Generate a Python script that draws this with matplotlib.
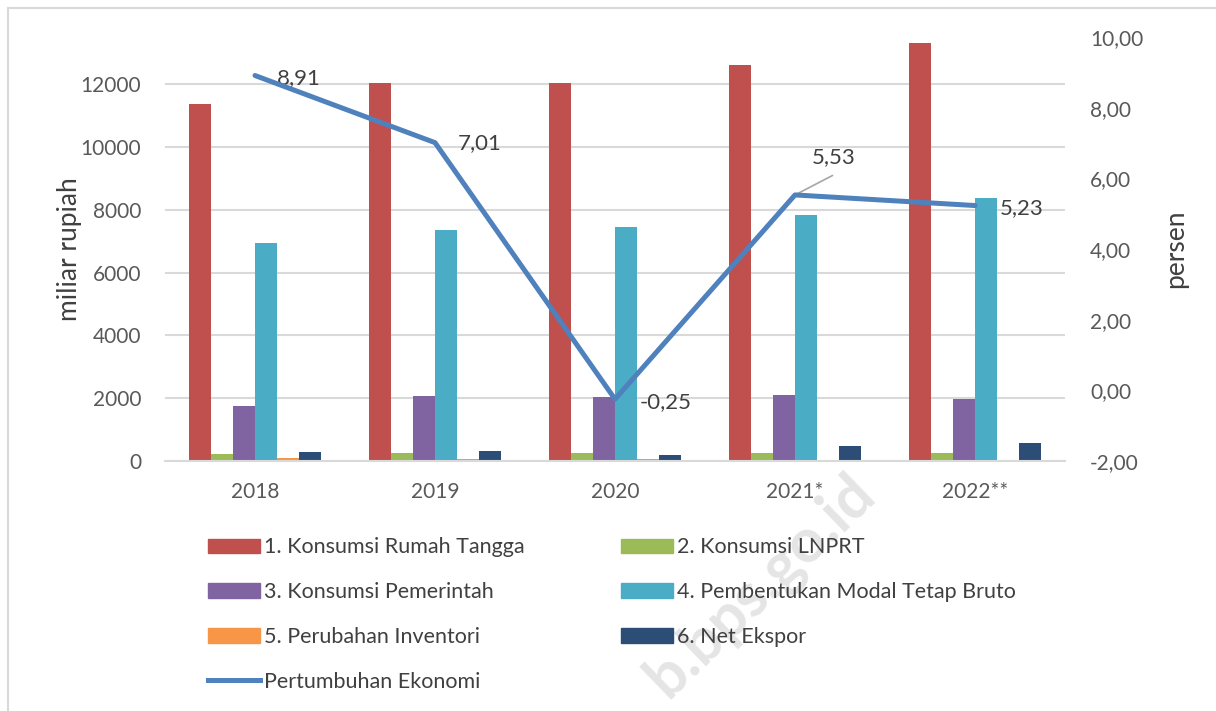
import numpy as np
import matplotlib
matplotlib.use("Agg")
import matplotlib.pyplot as plt
from matplotlib.patches import Rectangle, Patch
from matplotlib.lines import Line2D

plt.rcParams["font.family"] = ["Lato", "DejaVu Sans"]

years = ["2018", "2019", "2020", "2021*", "2022**"]

# komponen PDRB pengeluaran (miliar rupiah)
rumah_tangga = [11380, 12050, 12030, 12600, 13300]
lnprt = [220, 260, 250, 260, 270]
pemerintah = [1750, 2080, 2030, 2100, 1980]
pmtb = [6950, 7350, 7450, 7820, 8370]
inventori = [80, 60, 70, 0, 0]
net_ekspor = [290, 310, 200, 480, 560]

# pertumbuhan ekonomi (persen)
pertumbuhan = [8.91, 7.01, -0.25, 5.53, 5.23]
growth_labels = ["8,91", "7,01", "-0,25", "5,53", "5,23"]

series = [rumah_tangga, lnprt, pemerintah, pmtb, inventori, net_ekspor]
names = ["1. Konsumsi Rumah Tangga", "2. Konsumsi LNPRT",
         "3. Konsumsi Pemerintah", "4. Pembentukan Modal Tetap Bruto",
         "5. Perubahan Inventori", "6. Net Ekspor"]
colors = ["#C0504D", "#9BBB59", "#8064A2", "#4BACC6", "#F79646", "#2C4D75"]
line_color = "#4F81BD"
grid_c = "#D9D9D9"
txt_c = "#595959"

W, H = 1216, 711
fig = plt.figure(figsize=(W / 100, H / 100), dpi=100)

# chart border
fig.patches.append(Rectangle((8 / W, -0.05), 1.2, 1 - 8 / H + 0.05,
                             transform=fig.transFigure, fill=False,
                             edgecolor=grid_c, linewidth=1.5))

ax = fig.add_axes([165 / W, 1 - 461 / H, 900 / W, 424 / H])
x = np.arange(len(years))
w = 0.122
for i, (vals, c) in enumerate(zip(series, colors)):
    ax.bar(x + (i - 2.5) * w, vals, w, color=c, zorder=2)

ax.set_xlim(-0.5, len(years) - 0.5)
ax.set_ylim(0, 13500)
ax.set_yticks(range(0, 12001, 2000))
ax.set_yticklabels([str(v) for v in range(0, 12001, 2000)])
ax.yaxis.grid(True, color=grid_c, linewidth=1.5, zorder=0)
ax.set_axisbelow(True)
for s in ["top", "right", "left"]:
    ax.spines[s].set_visible(False)
ax.spines["bottom"].set_color(grid_c)
ax.spines["bottom"].set_linewidth(1.5)
ax.set_xticks(x)
ax.set_xticklabels(years)
ax.tick_params(axis="both", length=0, labelsize=15, colors=txt_c)
ax.tick_params(axis="y", pad=17)
ax.tick_params(axis="x", pad=15)
ax.set_ylabel("miliar rupiah", fontsize=19, color="#404040", labelpad=-1)

ax2 = ax.twinx()
ax2.plot(x, pertumbuhan, color=line_color, linewidth=3.6, zorder=5,
         solid_capstyle="round")
ax2.set_ylim(-2, 10)
ax2.set_yticks(np.arange(-2, 10.1, 2))
ax2.set_yticklabels([f"{v:.2f}".replace(".", ",") for v in np.arange(-2, 10.1, 2)])
ax2.tick_params(axis="y", length=0, labelsize=15, colors=txt_c, pad=18)
for s in ax2.spines.values():
    s.set_visible(False)
ax2.set_ylabel("persen", fontsize=19, color="#404040", labelpad=14)

offsets = [(16, -2), (16.5, 0), (18, -2), (12, 27), (18, -2)]
for xi, yi, lab, off in zip(x, pertumbuhan, growth_labels, offsets):
    ax2.annotate(lab, (xi, yi), xytext=off, textcoords="offset points",
                 fontsize=16, color="#404040", va="center", ha="left")
# leader line for 2021 label
ax2.annotate("", (x[3], pertumbuhan[3]), xytext=(27, 14),
             textcoords="offset points",
             arrowprops=dict(arrowstyle="-", color="#A6A6A6", lw=1.2,
                             shrinkA=0, shrinkB=1))

handles = [Patch(color=c, label=n) for c, n in zip(colors, names)]
handles.append(Line2D([], [], color=line_color, linewidth=3.6,
                      label="Pertumbuhan Ekonomi"))
# legend is filled row by row in the reference
order = [0, 2, 4, 6, 1, 3, 5]
fig.legend(handles=[handles[i] for i in order], loc="upper left",
           bbox_to_anchor=(189 / W, 1 - 518 / H),
           ncol=2, frameon=False, fontsize=15.5, labelcolor="#404040",
           handlelength=2.42, handleheight=0.65, handletextpad=0.15,
           columnspacing=4.5, labelspacing=1.15)

fig.text(760 / W, 1 - 586 / H, "b.bps.go.id", fontsize=44, fontweight="bold",
         color="#E5E5E5", rotation=44, ha="center", va="center", zorder=0)

fig.savefig("out.png", dpi=100)
